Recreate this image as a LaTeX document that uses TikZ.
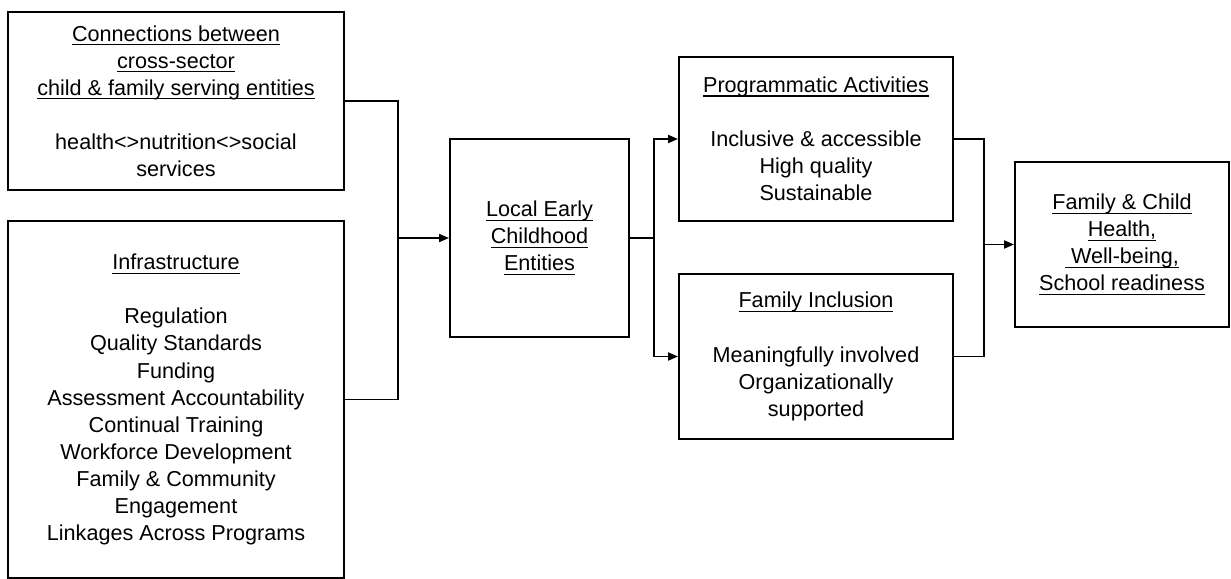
\documentclass[tikz,border=0pt]{standalone}
\usepackage{fontspec}
\setmainfont{Liberation Sans}
\usetikzlibrary{arrows.meta}
\newcommand\ulin[1]{\setbox0\hbox{#1}\rlap{\rule[-2.4pt]{\wd0}{0.75pt}}\box0}
\begin{document}
\begin{tikzpicture}[
  box/.style={draw=black, line width=1.1pt, inner sep=0pt, align=center,
    font=\fontsize{12.3pt}{15.4pt}\selectfont},
  conn/.style={draw=black, line width=1.1pt},
  arr/.style={conn, -{Triangle[length=0.2cm,width=0.16cm]}}
]
\useasboundingbox (0,0) rectangle (24.62,-11.58);
\node[box, minimum width=6.72cm, minimum height=3.56cm] (b1) at (3.52,-2.02)
  {\ulin{Connections between}\\ \ulin{cross-sector}\\ \ulin{child \& family serving entities}\\[15.4pt]
   health<>nutrition<>social\\ services};
\node[box, minimum width=6.72cm, minimum height=7.14cm] (b2) at (3.52,-7.99)
  {\ulin{Infrastructure}\\[15.4pt]
   Regulation\\ Quality Standards\\ Funding\\ Assessment Accountability\\ Continual Training\\
   Workforce Development\\ Family \& Community\\ Engagement\\ Linkages Across Programs};
\node[box, minimum width=3.58cm, minimum height=3.96cm] (lec) at (10.79,-4.76)
  {\ulin{Local Early}\\ \ulin{Childhood}\\ \ulin{Entities}};
\node[box, minimum width=5.48cm, minimum height=3.28cm] (prog) at (16.32,-2.78)
  {\ulin{Programmatic Activities}\\[15.4pt]
   Inclusive \& accessible\\ High quality\\ Sustainable};
\node[box, minimum width=5.48cm, minimum height=3.30cm] (fam) at (16.32,-7.13)
  {\ulin{Family Inclusion}\\[15.4pt]
   Meaningfully involved\\ Organizationally\\ supported};
\node[box, minimum width=4.28cm, minimum height=3.30cm] (out) at (22.44,-4.89)
  {\ulin{Family \& Child}\\ \ulin{Health,}\\ \ulin{~Well-being,}\\ \ulin{School readiness}};
\coordinate (j1) at (7.96,-4.76);
\coordinate (j2) at (13.08,-4.76);
\coordinate (j3) at (19.68,-4.89);
\draw[conn] (b1.east) -| (j1);
\draw[conn] (b2.east) -| (j1);
\draw[arr] (j1) -- (lec.west);
\draw[conn] (lec.east) -- (j2);
\draw[arr] (j2) |- (prog.west);
\draw[arr] (j2) |- (fam.west);
\draw[conn] (prog.east) -| (j3);
\draw[conn] (fam.east) -| (j3);
\draw[arr] (j3) -- (out.west);
\end{tikzpicture}
\end{document}
